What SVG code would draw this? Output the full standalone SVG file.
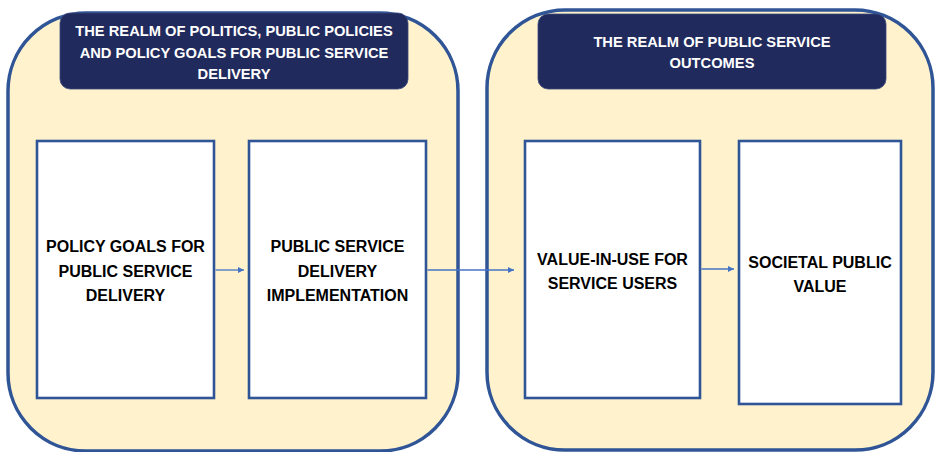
<svg xmlns="http://www.w3.org/2000/svg" width="936" height="452" viewBox="0 0 936 452">
  <style>
    .realm { fill: #FFF2CC; stroke: #2F5597; stroke-width: 3.5; }
    .title { fill: #212A5C; stroke: #3A4A80; stroke-width: 0.8; }
    .title-text { fill: #FFFFFF; font-family: "Liberation Sans", Arial, sans-serif; font-weight: bold; font-size: 14.7px; text-anchor: middle; }
    .box { fill: #FFFFFF; stroke: #2F5597; stroke-width: 2.6; }
    .box-text { fill: #000000; font-family: "Liberation Sans", Arial, sans-serif; font-weight: bold; font-size: 16px; text-anchor: middle; }
    .link { stroke: #4472C4; stroke-width: 1.3; fill: none; marker-end: url(#arrow); }
  </style>
  <defs>
    <marker id="arrow" viewBox="0 0 10 10" refX="10" refY="5" markerWidth="6" markerHeight="6" markerUnits="userSpaceOnUse" orient="auto">
      <path d="M0,0 L10,5 L0,10 z" fill="#4472C4"/>
    </marker>
  </defs>

  <!-- Realm containers -->
  <g id="realm-politics">
    <rect class="realm" x="8" y="13" width="450" height="438" rx="78" ry="78"/>
    <rect class="title" x="60" y="13" width="348" height="76" rx="10" ry="10"/>
    <text class="title-text" x="234" y="36">THE REALM OF POLITICS, PUBLIC POLICIES</text>
    <text class="title-text" x="234" y="58">AND POLICY GOALS FOR PUBLIC SERVICE</text>
    <text class="title-text" x="234" y="79">DELIVERY</text>
  </g>
  <g id="realm-outcomes">
    <rect class="realm" x="487" y="10" width="446" height="440" rx="78" ry="78"/>
    <rect class="title" x="538" y="14" width="348" height="75" rx="10" ry="10"/>
    <text class="title-text" x="712" y="47">THE REALM OF PUBLIC SERVICE</text>
    <text class="title-text" x="712" y="68">OUTCOMES</text>
  </g>

  <!-- Process nodes -->
  <g id="policy-goals">
    <rect class="box" x="37" y="141" width="177" height="257"/>
    <text class="box-text" x="125.5" y="252">POLICY GOALS FOR</text>
    <text class="box-text" x="125.5" y="277">PUBLIC SERVICE</text>
    <text class="box-text" x="125.5" y="301">DELIVERY</text>
  </g>
  <g id="delivery-implementation">
    <rect class="box" x="249" y="141" width="177" height="257"/>
    <text class="box-text" x="337.5" y="252">PUBLIC SERVICE</text>
    <text class="box-text" x="337.5" y="277">DELIVERY</text>
    <text class="box-text" x="337.5" y="301">IMPLEMENTATION</text>
  </g>
  <g id="value-in-use">
    <rect class="box" x="525" y="141" width="175" height="257"/>
    <text class="box-text" x="612.5" y="265">VALUE-IN-USE FOR</text>
    <text class="box-text" x="612.5" y="289">SERVICE USERS</text>
  </g>
  <g id="societal-value">
    <rect class="box" x="739" y="141" width="162" height="263"/>
    <text class="box-text" x="820" y="268">SOCIETAL PUBLIC</text>
    <text class="box-text" x="820" y="292">VALUE</text>
  </g>

  <!-- Connectors -->
  <g id="connectors">
    <line class="link" x1="215.5" y1="270" x2="244" y2="270"/>
    <line class="link" x1="427.5" y1="270" x2="514" y2="270"/>
    <line class="link" x1="701.5" y1="269" x2="734" y2="269"/>
  </g>
</svg>
